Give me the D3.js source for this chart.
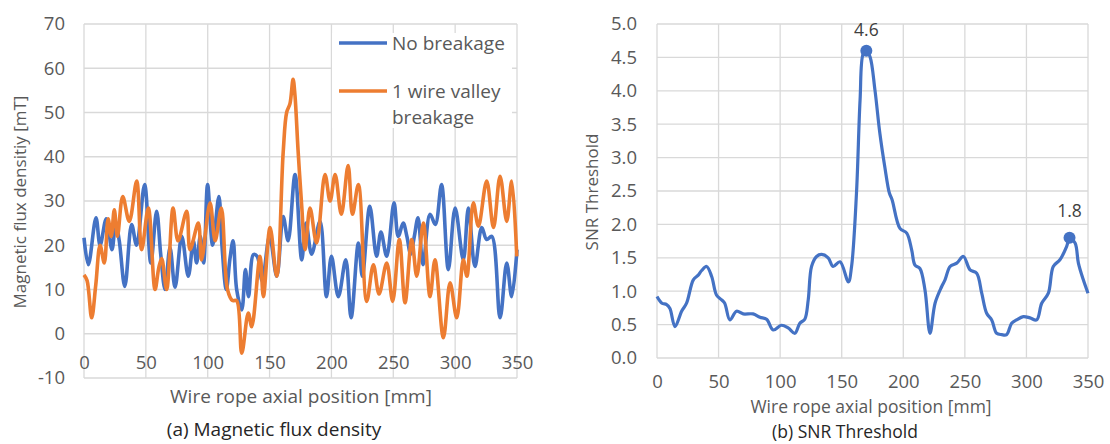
<!DOCTYPE html>
<html>
<head>
<meta charset="utf-8">
<script src="https://cdn.jsdelivr.net/npm/d3@7"></script>
<style>
  html, body { margin: 0; padding: 0; background: #ffffff; }
  svg { display: block; font-family: "Open Sans", "Noto Sans", sans-serif; }
</style>
</head>
<body>
<svg id="chart" width="1110" height="444"></svg>
<script>
// ---------- data ----------
const xTicks = [0, 50, 100, 150, 200, 250, 300, 350];
const fluxTicks = [-10, 0, 10, 20, 30, 40, 50, 60, 70];
const snrTicks = [0, 0.5, 1, 1.5, 2, 2.5, 3, 3.5, 4, 4.5, 5];

const seriesNames = ["No breakage", "1 wire valley breakage"];

const noBreakPos = [0, 3.5, 9.7, 13, 18, 22.6, 25.6, 28.5, 33, 38.5, 42.5, 49, 54, 58.7, 62, 65.5, 69.5, 73.6, 79, 84.3, 88.4, 91, 94, 96.7, 99.9, 104, 109, 111.5, 115, 118, 120.5, 123.4, 127.5, 130.5, 133, 137, 140, 144, 150, 155.8, 161, 165, 170.6, 176, 179.5, 184, 190.8, 196, 200, 205.6, 211.6, 215.9, 221.8, 225, 231, 236.5, 240, 244.7, 250.6, 254, 258, 261, 264, 267, 270, 274, 279.7, 284, 289, 294.5, 300, 306.6, 310.7, 316, 321.5, 325.5, 329.6, 336.3, 341.7, 345.7, 350];
const noBreakVal = [21.7, 15.6, 26.2, 20, 26, 19, 25, 21, 10.7, 24.7, 20, 33.7, 16, 27.7, 18, 10, 19.5, 10.5, 22, 13, 21, 16, 22, 16, 33.7, 20, 31, 20, 10, 17, 21, 10, 5.4, 14.5, 8.4, 17.9, 17.5, 12, 22, 13, 26.5, 21, 36, 16.7, 25, 18, 25.4, 8.4, 17.5, 8.4, 16.7, 3.6, 20.5, 13, 28.8, 17.5, 23, 17.5, 29.6, 22, 25, 22, 18, 22, 26.2, 15.6, 27, 24.7, 33.7, 14.5, 28.4, 16.7, 28.4, 15.2, 24, 21.3, 22, 3.6, 16, 8.4, 19];

const valleyPos = [0, 2.5, 6.2, 9.5, 13, 16.4, 19.5, 22, 24.5, 27, 31.3, 36.6, 42.6, 46.6, 52, 57.4, 60.5, 62.8, 66.8, 72, 76, 83, 85.7, 92.4, 95, 101.9, 106, 111, 116, 120, 123.4, 127.5, 132.8, 135.6, 142.3, 145, 150.4, 155.8, 161, 163.8, 166.5, 169, 170.5, 173, 176, 178.7, 182.7, 188, 194.8, 198.9, 203, 208, 213.5, 217, 221.8, 228.5, 233.9, 238.5, 244.7, 249.5, 254.9, 259.5, 264.9, 269, 274.3, 279.7, 283.7, 290.5, 295.9, 301.3, 306.6, 309.5, 314.7, 318.8, 325.5, 331, 336.3, 341.7, 345.7, 349.8];
const valleyVal = [13.3, 12, 3.6, 11, 20, 16, 26, 22, 28, 22, 31, 25.4, 34.5, 19, 28.4, 10, 15, 17, 10, 28.4, 21, 27.7, 19, 25, 16.7, 29.6, 21, 28.4, 10, 7.5, 7.5, -4.4, 4.7, 1.6, 17.5, 8.4, 24, 13, 41, 50, 52, 57.5, 54, 41.6, 28.8, 19, 28.4, 20.5, 36, 30, 36, 27, 38, 27, 33.7, 7.3, 15.6, 9, 16, 7.3, 21.3, 7, 21.3, 13, 25, 8.4, 16.7, -0.9, 11.5, 3.6, 16.7, 13, 29.6, 24.3, 34.5, 24, 35.6, 25.4, 34.5, 17.5];

const snrPos = [0, 4, 7.8, 10.5, 14.6, 20, 24, 29.5, 33.5, 36.3, 40.3, 44.4, 48.4, 52.5, 55, 59.2, 64.6, 70, 78, 83.6, 89, 94.4, 101, 106.5, 112, 116, 120, 122.8, 125.5, 129.6, 133.7, 139, 143, 148.6, 155.4, 158, 162, 164.9, 167.5, 170, 173, 177, 181, 185, 188.7, 190.9, 197.3, 202.8, 206.8, 209.5, 213.5, 217.6, 221.7, 225.8, 231.2, 233.9, 238, 243.4, 248.8, 254.2, 259.6, 263.7, 267.7, 271.8, 275.8, 279.9, 283.9, 288, 292, 297.5, 302.9, 308.3, 312.4, 317.8, 321.8, 327.2, 332.7, 335, 339.5, 342.2, 346.2, 350];
const snrVal = [0.92, 0.82, 0.80, 0.74, 0.47, 0.70, 0.82, 1.17, 1.24, 1.31, 1.37, 1.22, 0.94, 0.87, 0.82, 0.57, 0.70, 0.66, 0.66, 0.61, 0.58, 0.42, 0.49, 0.45, 0.37, 0.52, 0.58, 0.87, 1.37, 1.52, 1.55, 1.50, 1.37, 1.44, 1.14, 1.37, 2.47, 3.86, 4.56, 4.6, 4.51, 4.01, 3.36, 2.86, 2.47, 2.37, 1.94, 1.87, 1.62, 1.39, 1.34, 1.02, 0.37, 0.82, 1.07, 1.17, 1.37, 1.42, 1.52, 1.32, 1.27, 0.97, 0.67, 0.57, 0.37, 0.35, 0.35, 0.52, 0.57, 0.62, 0.60, 0.57, 0.82, 0.97, 1.37, 1.47, 1.67, 1.8, 1.72, 1.42, 1.17, 0.97];

const peakPos = [170, 335];
const peakVal = [4.6, 1.8];
const peakLabels = ["4.6", "1.8"];

// ---------- styles ----------
const BLUE = "#4472C4", ORANGE = "#ED7D31";
const GRID = "#d9d9d9", TICK = "#595959", DARK = "#262626";
const svg = d3.select("#chart");

function zip(p, v) { return p.map((x, i) => ({ x, y: v[i] })); }

function panel(opts) {
  const g = svg.append("g");
  const x = d3.scaleLinear().domain([0, 350]).range([opts.left, opts.right]);
  const y = d3.scaleLinear().domain(opts.yDomain).range([opts.bottom, opts.top]);

  g.append("g").selectAll("line").data(opts.yTicks).join("line")
    .attr("x1", opts.left).attr("x2", opts.right)
    .attr("y1", d => y(d)).attr("y2", d => y(d))
    .attr("stroke", GRID).attr("stroke-width", 1.3);
  g.append("g").selectAll("line").data(xTicks).join("line")
    .attr("x1", d => x(d)).attr("x2", d => x(d))
    .attr("y1", opts.top).attr("y2", opts.bottom)
    .attr("stroke", GRID).attr("stroke-width", 1.3);

  const ya = g.append("g").attr("transform", `translate(${opts.left},0)`)
    .call(d3.axisLeft(y).tickValues(opts.yTicks).tickFormat(opts.yFmt).tickSize(0).tickPadding(opts.yPad));
  ya.select(".domain").remove();
  ya.selectAll("text").attr("fill", TICK).style("font-size", "18.5px").style("font-family", "Open Sans, sans-serif");

  const xa = g.append("g").attr("transform", `translate(0,${y(0)})`)
    .call(d3.axisBottom(x).tickValues(xTicks).tickFormat(d => String(d)).tickSize(0).tickPadding(opts.xPad));
  xa.select(".domain").remove();
  xa.selectAll("text").attr("fill", TICK).style("font-size", "18.5px").style("font-family", "Open Sans, sans-serif");

  return { g, x, y };
}

// ---------- left panel ----------
const L = panel({ left: 84, right: 517, top: 24, bottom: 378, yDomain: [-10, 70], yTicks: fluxTicks,
  yFmt: d => String(d), yPad: 19, xPad: 22 });

const lineL = d3.line().x(d => L.x(d.x)).y(d => L.y(d.y)).curve(d3.curveCatmullRom.alpha(0.5));
L.g.append("path").datum(zip(noBreakPos, noBreakVal)).attr("d", lineL)
  .attr("fill", "none").attr("stroke", BLUE).attr("stroke-width", 3.6).attr("stroke-linejoin", "round");
L.g.append("path").datum(zip(valleyPos, valleyVal)).attr("d", lineL)
  .attr("fill", "none").attr("stroke", ORANGE).attr("stroke-width", 3.6).attr("stroke-linejoin", "round");

const leg = L.g.append("g");
leg.append("rect").attr("x", 332).attr("y", 33).attr("width", 180).attr("height", 95).attr("fill", "#ffffff");
const legItems = [
  { c: BLUE, y: 43, lines: [seriesNames[0]] },
  { c: ORANGE, y: 91, lines: ["1 wire valley", "breakage"] }
];
legItems.forEach(it => {
  leg.append("line").attr("x1", 339).attr("x2", 387).attr("y1", it.y).attr("y2", it.y)
    .attr("stroke", it.c).attr("stroke-width", 3.6);
  const t = leg.append("text").attr("x", 392).attr("y", it.y + 6.5).attr("fill", TICK).style("font-size", "19px");
  it.lines.forEach((s, i) => t.append("tspan").attr("x", 392).attr("dy", i === 0 ? 0 : 26).text(s));
});

svg.append("text").attr("x", 301).attr("y", 403).attr("text-anchor", "middle").attr("fill", TICK)
  .style("font-size", "19px").text("Wire rope axial position [mm]");
svg.append("text").attr("transform", "translate(26,202) rotate(-90)").attr("text-anchor", "middle").attr("fill", TICK)
  .style("font-size", "17px").text("Magnetic flux densitiy [mT]");
svg.append("text").attr("x", 274).attr("y", 436).attr("text-anchor", "middle").attr("fill", DARK)
  .style("font-size", "19px").text("(a) Magnetic flux density");

// ---------- right panel ----------
const R = panel({ left: 657, right: 1088, top: 24, bottom: 358, yDomain: [0, 5], yTicks: snrTicks,
  yFmt: d3.format(".1f"), yPad: 20, xPad: 17 });

const lineR = d3.line().x(d => R.x(d.x)).y(d => R.y(d.y)).curve(d3.curveCatmullRom.alpha(0.5));
R.g.append("path").datum(zip(snrPos, snrVal)).attr("d", lineR)
  .attr("fill", "none").attr("stroke", BLUE).attr("stroke-width", 3.2).attr("stroke-linejoin", "round");

const peaks = zip(peakPos, peakVal);
const peakGap = [15, 21];
R.g.selectAll("circle.pk").data(peaks).join("circle").attr("class", "pk")
  .attr("cx", d => R.x(d.x)).attr("cy", d => R.y(d.y)).attr("r", 6).attr("fill", BLUE);
R.g.selectAll("text.pk").data(peaks).join("text").attr("class", "pk")
  .attr("x", d => R.x(d.x)).attr("y", (d, i) => R.y(d.y) - peakGap[i]).attr("text-anchor", "middle")
  .attr("fill", "#404040").style("font-size", "17.5px").text((d, i) => peakLabels[i]);

svg.append("text").attr("x", 871).attr("y", 413).attr("text-anchor", "middle").attr("fill", TICK)
  .style("font-size", "17.5px").text("Wire rope axial position [mm]");
svg.append("text").attr("transform", "translate(598,192) rotate(-90)").attr("text-anchor", "middle").attr("fill", TICK)
  .style("font-size", "17px").text("SNR Threshold");
svg.append("text").attr("x", 845).attr("y", 438).attr("text-anchor", "middle").attr("fill", DARK)
  .style("font-size", "17.5px").text("(b) SNR Threshold");
</script>
</body>
</html>
